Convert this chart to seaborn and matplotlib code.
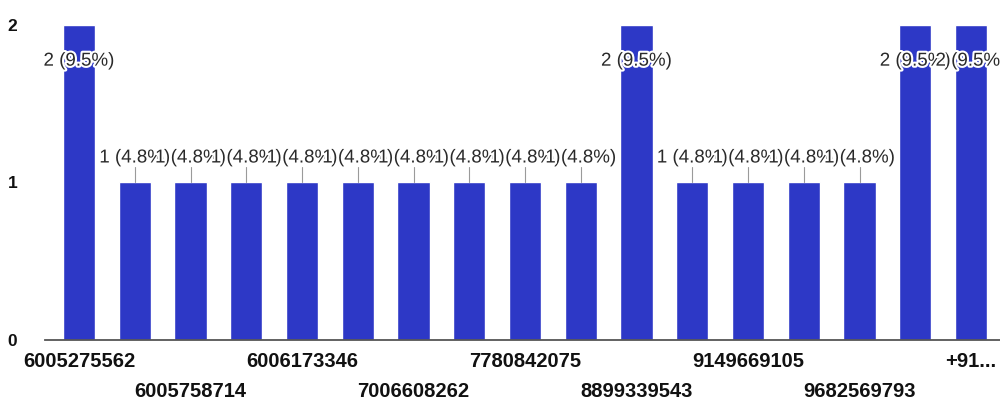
import pandas as pd
import seaborn as sns
import matplotlib.pyplot as plt
import matplotlib.patheffects as pe

# === Data ===
# only every other category name is printed on the axis, the rest are hidden
phone_numbers = ["6005275562", "", "6005758714", "", "6006173346", "", "7006608262", "",
                 "7780842075", "", "8899339543", "", "9149669105", "", "9682569793", "", "+91..."]
responses = [2, 1, 1, 1, 1, 1, 1, 1, 1, 1, 2, 1, 1, 1, 1, 2, 2]

bar_color = "#2d38c6"

df = pd.DataFrame({"slot": [str(i) for i in range(len(responses))], "count": responses})
total = sum(responses)

sns.set_theme(style="white")
plt.rcParams["font.family"] = ["Liberation Sans", "DejaVu Sans"]

fig = plt.figure(figsize=(10, 4.16), dpi=100)
ax = fig.add_axes([0.045, 0.183, 0.955, 0.757])

sns.barplot(data=df, x="slot", y="count", color=bar_color, saturation=1, width=0.58, ax=ax)

ax.set_xlim(-0.61, len(responses) - 0.48)
ax.set_ylim(0, 2)

# === Value labels with stems ===
for i, c in enumerate(responses):
    label = f"{c} ({c / total * 100:.1f}%)"
    if c >= 2:
        y_txt = 1.77
    else:
        y_txt = c + 0.155
        ax.plot([i, i], [c, c + 0.1], color="#9a9a9a", lw=0.8, zorder=3)
    ax.text(i, y_txt, label, ha="center", va="center", fontsize=13.5, color="#2a2a2a",
            zorder=10 + i, clip_on=False,
            path_effects=[pe.withStroke(linewidth=3, foreground="white")])

# === Axes styling ===
ax.set_yticks([0, 1, 2])
ax.set_yticklabels(["0", "1", "2"], fontsize=12.5, color="#111111", fontweight="bold")
ax.tick_params(axis="y", length=0, pad=20)

tick_text = []
for i, name in enumerate(phone_numbers):
    if name and i % 4 == 2:
        tick_text.append("\n" + name)
    else:
        tick_text.append(name)
ax.set_xticks(range(len(phone_numbers)))
ax.set_xticklabels(tick_text, fontsize=14.5, color="#111111", fontweight="bold",
                   linespacing=1.7)
ax.tick_params(axis="x", length=0, pad=9)

ax.set_xlabel("")
ax.set_ylabel("")
for side in ["top", "right", "left"]:
    ax.spines[side].set_visible(False)
ax.spines["bottom"].set_color("#555555")
ax.spines["bottom"].set_linewidth(1.3)

plt.savefig("out.png", dpi=100)
plt.close()
